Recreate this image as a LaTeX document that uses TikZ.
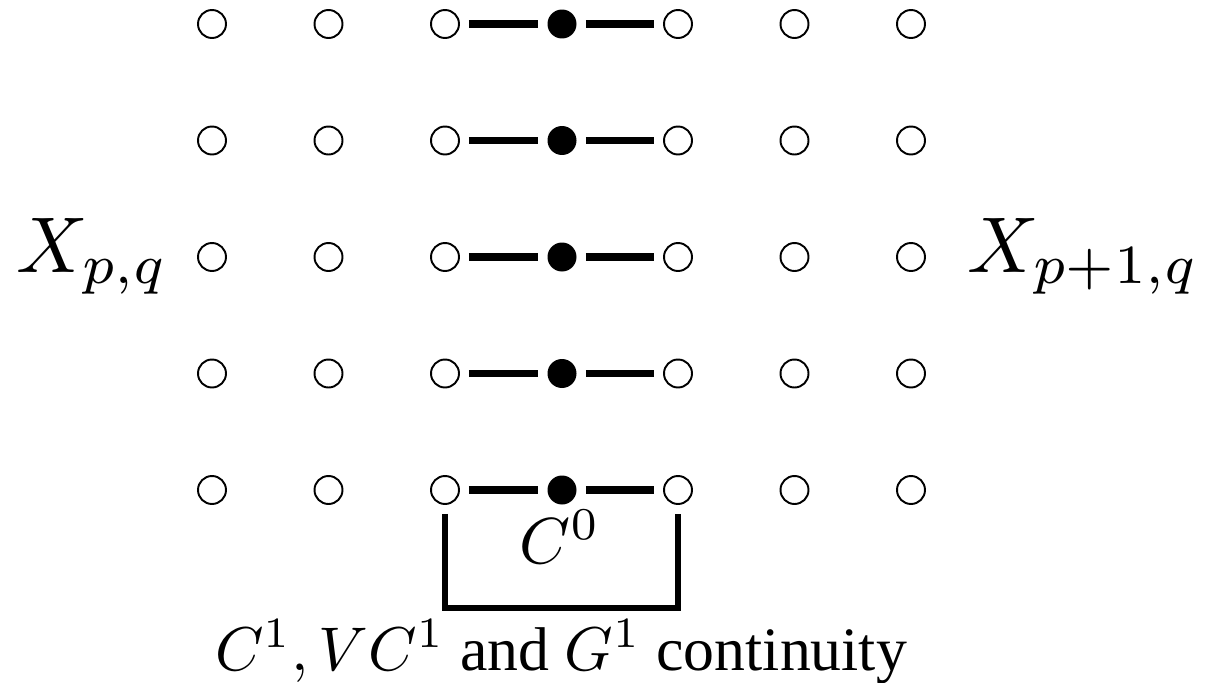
\documentclass[tikz,border=0pt]{standalone}
\usepackage{fontspec}
\setmainfont{Liberation Serif}
\usetikzlibrary{positioning, calc}
\tikzset{
  every picture/.style={line cap=butt, line join=miter},
  % control points of the two patches
  cpt/.style={circle, draw, line width=1.1pt, fill=white, inner sep=0pt, minimum size=0.56cm},
  % points on the shared boundary
  bpt/.style={circle, fill=black, inner sep=0pt, minimum size=0.58cm},
  link/.style={line width=4pt, shorten <=0.18cm, shorten >=0.18cm},
  brace/.style={line width=3.4pt},
  biglabel/.style={font=\normalsize, inner sep=0pt, scale=4.5},
  lbl/.style={font=\normalsize, inner sep=0pt, scale=3.7},
}
\begin{document}
\begin{tikzpicture}[x=0.02cm, y=-0.02cm]
  \useasboundingbox (0,0) rectangle (1205,683);
  % 7 x 5 grid of control points, middle column shared
  \foreach \r in {1,...,5} {
    \foreach \c in {1,2,3,5,6,7}
      \node[cpt] (p\c\r) at ({212+(\c-1)*116.5},{24+(\r-1)*116.5}) {};
    \node[bpt] (p4\r) at (562,{24+(\r-1)*116.5}) {};
    \draw[link] (p3\r) -- (p4\r);
    \draw[link] (p4\r) -- (p5\r);
  }
  % patch names
  \node[biglabel, anchor=base east] (xleft) at (170,272) {$X_{p,q}$};
  \node[biglabel, anchor=base west] (xright) at (966,272) {$X_{p+1,q}$};
  % continuity brackets
  \node[lbl, anchor=base] (czero) at (560,563) {$C^0$};
  \draw[brace] ([yshift=-0.18cm]p35.south) -- ++(0,94) -| ([yshift=-0.18cm]p55.south);
  \node[lbl, scale=0.95, anchor=base] (cone) at (561,670) {$C^1, VC^1$ and $G^1$ continuity};
\end{tikzpicture}
\end{document}
